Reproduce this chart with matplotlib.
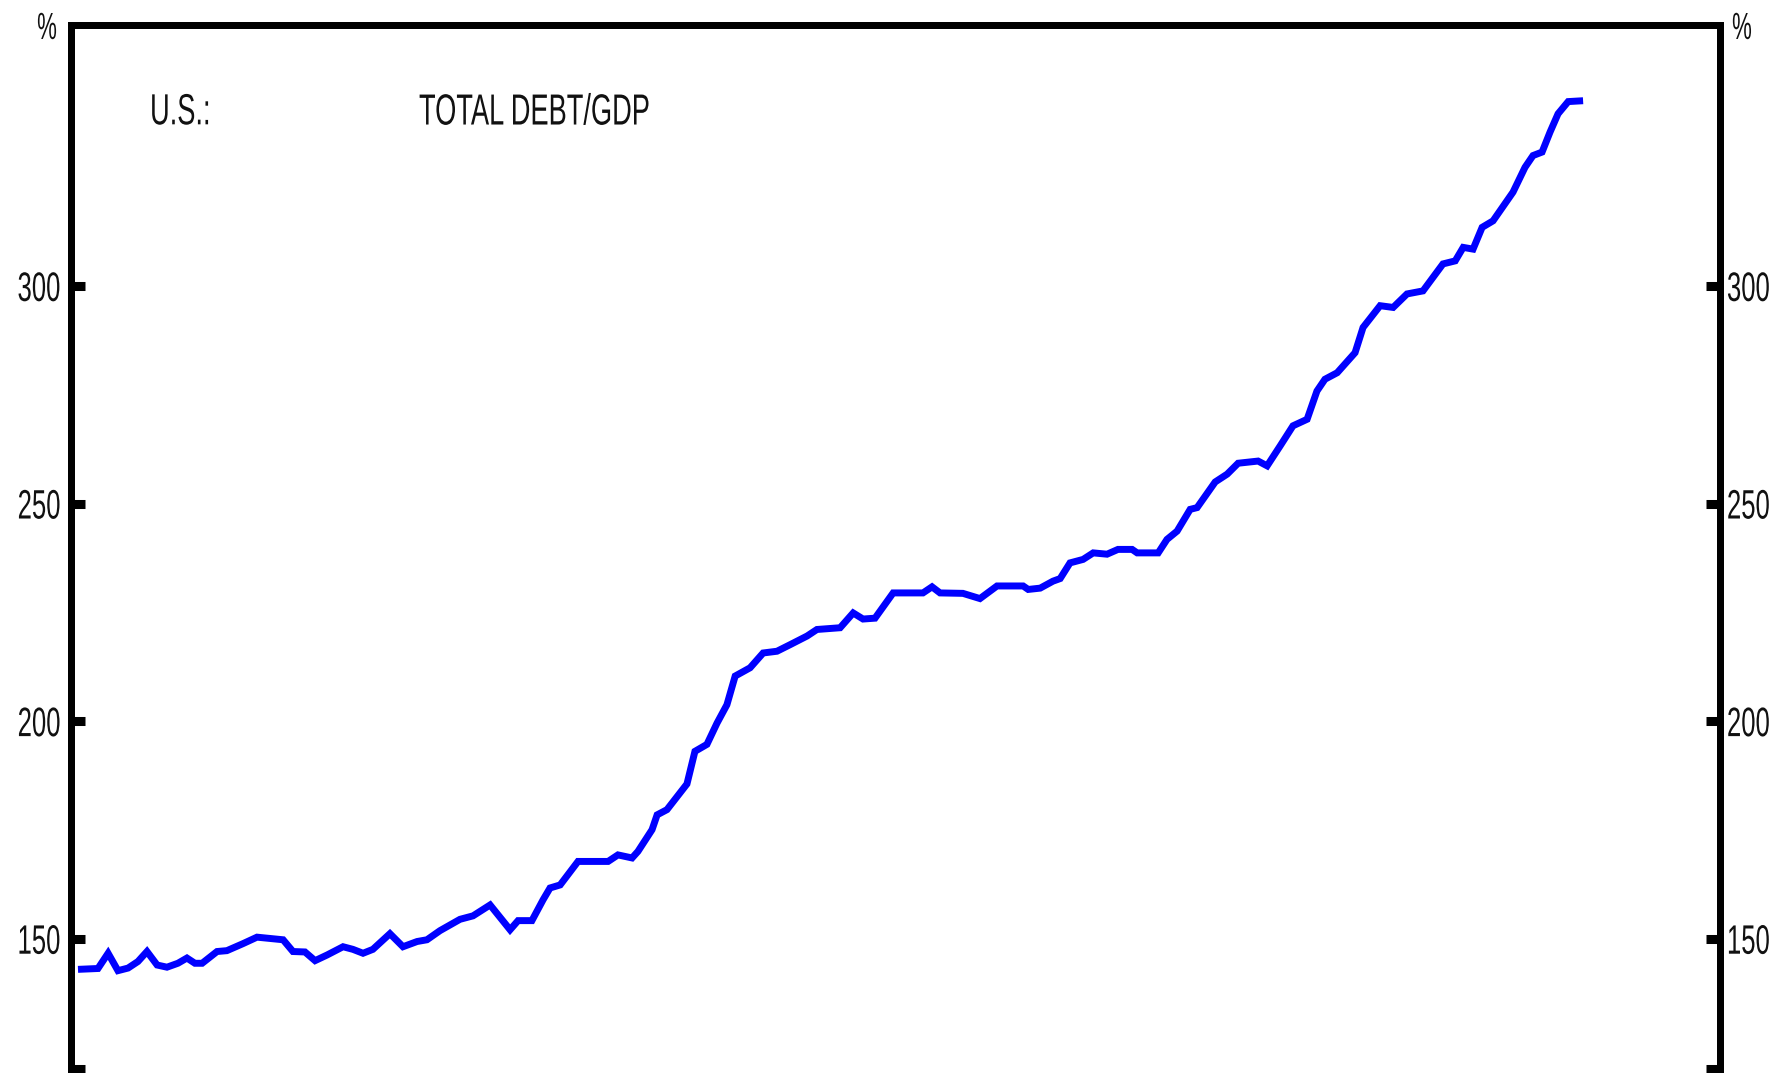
import matplotlib
matplotlib.use("Agg")
import matplotlib.pyplot as plt
from matplotlib.patheffects import AbstractPathEffect
from matplotlib.transforms import Affine2D

# ---- data ----
years = [1952.00, 1952.75, 1953.13, 1953.50, 1953.88, 1954.25, 1954.59, 1954.97,
         1955.34, 1955.75, 1956.09, 1956.39, 1956.66, 1957.22, 1957.59, 1958.19,
         1958.72, 1959.70, 1960.07, 1960.52, 1960.90, 1961.35, 1961.95, 1962.32,
         1962.70, 1963.07, 1963.71, 1964.20, 1964.73, 1965.10, 1965.59, 1966.34,
         1966.83, 1967.47, 1968.22, 1968.52, 1969.04, 1969.46, 1969.72, 1970.10,
         1970.77, 1971.90, 1972.27, 1972.80, 1973.02, 1973.55, 1973.74, 1974.11,
         1974.86, 1975.16, 1975.61, 1975.99, 1976.36, 1976.67, 1977.23, 1977.72,
         1978.24, 1978.73, 1979.37, 1979.74, 1980.61, 1981.10, 1981.47, 1981.92,
         1982.60, 1983.72, 1984.06, 1984.36, 1985.22, 1985.86, 1986.50, 1987.48,
         1987.67, 1988.12, 1988.60, 1988.87, 1989.24, 1989.73, 1990.11, 1990.63,
         1991.04, 1991.57, 1991.76, 1992.55, 1992.88, 1993.26, 1993.75, 1994.01,
         1994.69, 1995.14, 1995.55, 1996.30, 1996.64, 1997.13, 1997.61, 1998.14,
         1998.51, 1998.81, 1999.27, 1999.94, 2000.24, 2000.88, 2001.37, 2001.89,
         2002.49, 2003.24, 2003.70, 2004.00, 2004.37, 2004.71, 2005.12, 2005.87,
         2006.32, 2006.62, 2006.96, 2007.26, 2007.56, 2007.94, 2008.50]

debt_gdp = [143.0, 143.2, 146.7, 142.7, 143.3, 144.8, 147.1, 144.0,
            143.5, 144.4, 145.6, 144.4, 144.4, 147.1, 147.3, 148.9,
            150.4, 149.8, 147.1, 147.0, 145.0, 146.3, 148.2, 147.6,
            146.7, 147.6, 151.2, 148.2, 149.4, 149.8, 151.9, 154.5,
            155.3, 157.8, 152.1, 154.2, 154.2, 159.0, 161.7, 162.4,
            167.8, 167.8, 169.3, 168.6, 170.1, 175.1, 178.5, 179.7,
            185.6, 193.1, 194.7, 199.6, 203.8, 210.4, 212.3, 215.7,
            216.1, 217.6, 219.6, 221.1, 221.5, 224.9, 223.5, 223.7,
            229.5, 229.5, 230.9, 229.5, 229.4, 228.2, 231.1, 231.1,
            230.3, 230.6, 232.2, 232.8, 236.4, 237.2, 238.7, 238.4,
            239.5, 239.5, 238.7, 238.7, 241.8, 243.7, 248.7, 249.1,
            255.0, 256.8, 259.3, 259.8, 258.7, 263.3, 267.9, 269.4,
            275.9, 278.6, 280.1, 284.7, 290.5, 295.5, 295.1, 298.2,
            298.9, 305.1, 305.8, 308.9, 308.5, 313.5, 315.0, 321.6,
            327.3, 330.0, 330.8, 335.4, 339.6, 342.4, 342.6]

ytick_values = [120, 150, 200, 250, 300]
ytick_labels = ["", "150", "200", "250", "300"]
country_label = "U.S.:"
series_title = "TOTAL DEBT/GDP"
unit_label = "%"


class TallGlyphs(AbstractPathEffect):
    """Draw text glyphs stretched vertically about their centre (text stays a Text artist)."""

    def __init__(self, sy):
        super().__init__()
        self.sy = sy

    def draw_path(self, renderer, gc, tpath, affine, rgbFace=None):
        ext = tpath.get_extents()
        yc = 0.5 * (ext.y0 + ext.y1)
        t = Affine2D().translate(0, -yc).scale(1.0, self.sy).translate(0, yc) + affine
        renderer.draw_path(gc, tpath, t, rgbFace)


plt.rcParams["font.family"] = ["Liberation Sans", "DejaVu Sans"]

TEXT = "#111111"
SY = 1.6
TICK_FS = 18.5
TITLE_FS = 19.6

fig = plt.figure(figsize=(17.9, 10.73), dpi=100)
ax = fig.add_axes([0.0397, 0.0033, 0.9212, 0.9734])

ax.plot(years, debt_gdp, color="#0000ff", linewidth=5.0,
        solid_joinstyle="miter", solid_capstyle="butt")

ax.set_xlim(1951.74, 2013.64)
ax.set_ylim(120, 360)

for side in ["left", "right", "top"]:
    ax.spines[side].set_linewidth(5.0)
    ax.spines[side].set_color("black")
ax.spines["bottom"].set_visible(False)

ax.set_xticks([])
ax.set_yticks(ytick_values)
left_labels = ax.set_yticklabels(ytick_labels)
ax.tick_params(axis="y", direction="in", length=10, width=6.5, color="black",
               labelsize=TICK_FS, labelcolor=TEXT, pad=7.5, left=True, right=False)

ax2 = ax.twinx()
ax2.set_ylim(ax.get_ylim())
ax2.set_yticks(ytick_values)
right_labels = ax2.set_yticklabels(ytick_labels)
ax2.tick_params(axis="y", direction="in", length=10, width=6.5, color="black",
                labelsize=TICK_FS, labelcolor=TEXT, pad=5, left=False, right=True)
for side in ["left", "right", "top"]:
    ax2.spines[side].set_linewidth(5.0)
ax2.spines["bottom"].set_visible(False)
ax2.set_xticks([])

for lab in list(left_labels) + list(right_labels):
    lab.set_path_effects([TallGlyphs(SY)])

ax.text(-0.0146, 0.997, unit_label, transform=ax.transAxes, ha="center", va="center",
        fontsize=16, color=TEXT, path_effects=[TallGlyphs(1.7)])
ax.text(1.0133, 0.997, unit_label, transform=ax.transAxes, ha="center", va="center",
        fontsize=16, color=TEXT, path_effects=[TallGlyphs(1.7)])

ax.text(0.0479, 0.917, country_label, transform=ax.transAxes, ha="left", va="center",
        fontsize=TITLE_FS, color=TEXT, path_effects=[TallGlyphs(SY)])
ax.text(0.2110, 0.917, series_title, transform=ax.transAxes, ha="left", va="center",
        fontsize=TITLE_FS, color=TEXT, path_effects=[TallGlyphs(SY)])

fig.savefig("out.png", dpi=100, facecolor="white")
